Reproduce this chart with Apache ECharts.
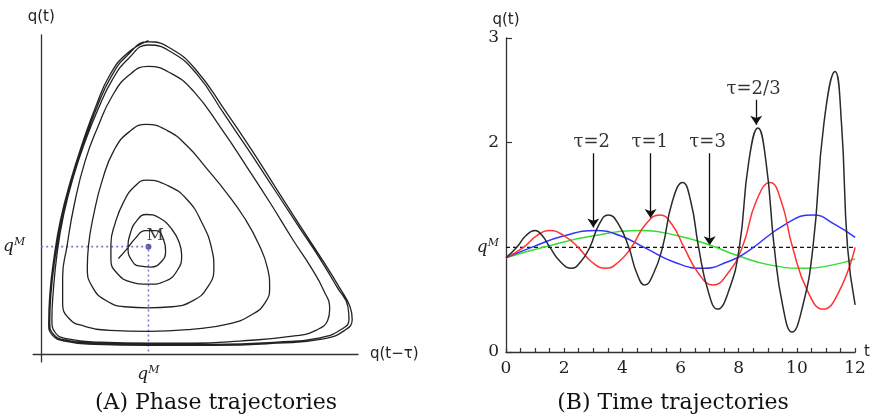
<!DOCTYPE html>
<html><head><meta charset="utf-8">
<script src="https://cdn.jsdelivr.net/npm/echarts@6/dist/echarts.min.js"></script>
<style>html,body{margin:0;padding:0;background:#fff}#c{width:873px;height:419px}</style>
</head><body><div id="c"></div>
<script>
// ---------- Data ----------
const qM = 1.0;
// Panel A: phase trajectory, pairs [q(t−τ), q(t)], one array per revolution (clockwise)
const loop0 = [[0.72,0.89],[0.80,0.98],[0.88,1.08],[0.97,1.15],[1.07,1.15],[1.14,1.07],[1.16,0.96],[1.12,0.86],[1.02,0.81],[0.91,0.82],[0.84,0.88],[0.81,0.98],[0.83,1.12],[0.89,1.24],[0.98,1.30]];
const loop1 = [[1.10,1.27],[1.22,1.16],[1.29,1.03],[1.31,0.92],[1.27,0.78],[1.16,0.68],[1.00,0.65],[0.84,0.67],[0.71,0.75],[0.65,0.88],[0.65,1.02],[0.69,1.22],[0.77,1.42],[0.87,1.56],[0.98,1.62]];
const loop2 = [[1.18,1.57],[1.36,1.44],[1.50,1.22],[1.59,0.98],[1.61,0.80],[1.55,0.62],[1.42,0.50],[1.22,0.44],[1.00,0.43],[0.78,0.44],[0.60,0.50],[0.48,0.62],[0.43,0.80],[0.44,1.00],[0.49,1.30],[0.57,1.62],[0.68,1.90],[0.82,2.07],[0.98,2.14]];
const loop3 = [[1.18,2.08],[1.36,1.94],[1.55,1.72],[1.73,1.50],[1.90,1.26],[2.03,1.02],[2.11,0.80],[2.13,0.62],[2.09,0.48],[1.97,0.37],[1.75,0.28],[1.40,0.23],[1.00,0.21],[0.64,0.22],[0.40,0.26],[0.26,0.33],[0.20,0.48],[0.20,0.72],[0.24,1.00],[0.31,1.40],[0.41,1.80],[0.53,2.12],[0.66,2.40],[0.82,2.60],[1.00,2.68]];
const loop4 = [[1.22,2.61],[1.42,2.45],[1.68,2.10],[1.92,1.74],[2.14,1.40],[2.35,1.06],[2.52,0.80],[2.63,0.60],[2.69,0.42],[2.67,0.31],[2.56,0.22],[2.38,0.17],[1.85,0.12],[1.40,0.10],[1.00,0.10],[0.55,0.11],[0.25,0.14],[0.13,0.20],[0.10,0.32],[0.11,0.55],[0.15,0.95],[0.21,1.30],[0.30,1.65],[0.41,1.98],[0.53,2.28],[0.66,2.55],[0.81,2.75],[1.00,2.88]];
const loop5 = [[1.22,2.81],[1.45,2.61],[1.71,2.23],[1.94,1.89],[2.17,1.54],[2.40,1.19],[2.61,0.87],[2.76,0.62],[2.86,0.44],[2.87,0.32],[2.80,0.23],[2.60,0.15],[2.20,0.11],[1.60,0.09],[1.00,0.09],[0.50,0.10],[0.22,0.13],[0.11,0.19],[0.08,0.29],[0.09,0.55],[0.13,0.90],[0.19,1.25],[0.28,1.60],[0.40,1.98],[0.52,2.30],[0.65,2.58],[0.80,2.78],[1.00,2.91]];
const loop6 = [[1.22,2.84],[1.45,2.64],[1.72,2.26],[1.95,1.92],[2.18,1.56],[2.41,1.20],[2.62,0.88],[2.78,0.62],[2.88,0.44],[2.90,0.32],[2.83,0.22],[2.63,0.14],[2.20,0.10],[1.60,0.08],[1.00,0.08],[0.50,0.09],[0.22,0.12],[0.10,0.18],[0.07,0.28],[0.08,0.55],[0.12,0.90],[0.18,1.25],[0.27,1.60],[0.39,1.98],[0.51,2.31],[0.64,2.60],[0.80,2.80],[1.00,2.92]];

// Panel B: time trajectories
const blackT = [0,0.37,0.68,1.0,1.25,1.51,1.88,2.25,2.56,2.88,3.2,3.52,3.87,4.22,4.5,4.77,5.07,5.38,5.72,6.07,6.35,6.62,6.95,7.27,7.65,8.02,8.34,8.66,8.94,9.22,9.52,9.83,10.19,10.55,10.93,11.31,11.53,11.74,12.0];
const blackQ = [0.9,1.0,1.11,1.16,1.11,1.0,0.86,0.80,0.86,1.0,1.22,1.31,1.22,1.0,0.75,0.64,0.75,1.0,1.44,1.62,1.44,1.0,0.58,0.41,0.58,1.0,1.81,2.14,1.81,1.0,0.43,0.19,0.43,1.0,2.19,2.68,2.19,1.0,0.45];
const redT = [0,0.6,1.05,1.51,2.0,2.48,2.95,3.43,3.87,4.31,4.8,5.29,5.7,6.12,6.62,7.12,7.62,8.12,8.6,9.08,9.46,9.85,10.37,10.9,11.45,12.0];
const redQ = [0.9,1.0,1.11,1.16,1.11,1.0,0.86,0.80,0.86,1.0,1.22,1.31,1.22,1.0,0.75,0.64,0.75,1.0,1.44,1.62,1.44,1.0,0.58,0.41,0.58,1.0];
const blueT = [0,0.88,2.0,3.11,3.93,4.75,5.77,6.78,7.6,8.3,9.6,10.55,11.3,12.0];
const blueQ = [0.9,1.0,1.11,1.16,1.11,1.0,0.86,0.80,0.86,0.96,1.22,1.31,1.22,1.095];
const greenT = [0,1.28,3.0,4.72,5.9,7.02,7.97,9.1,10.3,11.2,12.0];
const greenQ = [0.9,1.0,1.11,1.16,1.11,1.02,0.92,0.83,0.80,0.83,0.89];

const xTickLabels = [0,2,4,6,8,10,12];
const yTickLabels = [0,1,2,3];

// annotations
const tauLabels = ['τ=2','τ=1','τ=3','τ=2/3'];
const labelT = [2.95,4.94,6.93,8.51];
const labelQ = [2.0,2.0,2.0,2.51];
const arrowT = [3.0,4.97,7.0,8.6];
const arrowFrom = [1.9,1.9,1.9,2.41];
const arrowTo = [1.19,1.28,1.02,2.17];

// ---------- Chart ----------
const zip = (a,b)=>a.map((v,i)=>[v,b[i]]);
const phase = [].concat(loop0,loop1,loop2,loop3,loop4,loop5,loop6);
const serif = 'DejaVu Serif';
const sans = 'DejaVu Sans';
const qmRich = {
  q:{fontFamily:serif,fontStyle:'italic',fontSize:17,color:'#222',lineHeight:20},
  m:{fontFamily:serif,fontStyle:'italic',fontSize:11,color:'#222',verticalAlign:'top',lineHeight:20,padding:[0,0,6,0]}
};
const qmFmt = ()=>'{q|q}{m|M}';

const chart = echarts.init(document.getElementById('c'),null,{renderer:'canvas'});
const axisLineStyle = {color:'#333',width:1.3};
chart.setOption({
  animation:false,
  backgroundColor:'#fff',
  grid:[
    {left:33,top:35,width:325,height:327},
    {left:506,top:38,width:349.7,height:314}
  ],
  xAxis:[
    {gridIndex:0,type:'value',min:-0.075,max:2.954,
     axisLine:{onZero:true,lineStyle:axisLineStyle},axisTick:{show:false},splitLine:{show:false},
     axisLabel:{customValues:[qM],formatter:qmFmt,rich:qmRich,margin:3},
     name:'q(t−τ)',nameLocation:'end',nameGap:12,
     nameTextStyle:{fontFamily:sans,fontSize:15,color:'#222'}},
    {gridIndex:1,type:'value',min:0,max:12,interval:0.5,
     axisLine:{onZero:false,lineStyle:axisLineStyle},
     axisTick:{inside:true,length:4,lineStyle:{color:'#333',width:1.2}},
     splitLine:{show:false},
     axisLabel:{customValues:xTickLabels,fontFamily:serif,fontSize:17,color:'#222',margin:8},
     name:'t',nameLocation:'end',nameGap:9,
     nameTextStyle:{fontFamily:sans,fontSize:15,color:'#222'}}
  ],
  yAxis:[
    {gridIndex:0,type:'value',min:-0.075,max:2.973,
     axisLine:{onZero:true,lineStyle:axisLineStyle},axisTick:{show:false},splitLine:{show:false},
     axisLabel:{customValues:[qM],formatter:qmFmt,rich:qmRich,margin:8},
     name:'q(t)',nameLocation:'end',nameGap:10,
     nameTextStyle:{fontFamily:sans,fontSize:15,color:'#222'}},
    {gridIndex:1,type:'value',min:0,max:3,interval:1,
     axisLine:{onZero:false,lineStyle:axisLineStyle},
     axisTick:{inside:true,length:6,customValues:[0,2,3],lineStyle:{color:'#333',width:1.2}},
     splitLine:{show:false},
     axisLabel:{customValues:yTickLabels,margin:7,fontFamily:serif,fontSize:17,color:'#222',
       formatter:(v)=>Math.abs(v-qM)<1e-9?'{q|q}{m|M}':String(v),rich:qmRich},
     name:'q(t)',nameLocation:'end',nameGap:10,
     nameTextStyle:{fontFamily:sans,fontSize:15,color:'#222'}}
  ],
  graphic:[
    {type:'text',x:216,y:403,style:{text:'(A) Phase trajectories',fontFamily:serif,fontSize:22,fill:'#111',textAlign:'center',textVerticalAlign:'middle'}},
    {type:'text',x:673,y:403,style:{text:'(B) Time trajectories',fontFamily:serif,fontSize:22,fill:'#111',textAlign:'center',textVerticalAlign:'middle'}}
  ],
  series:[
    // Panel A
    {type:'line',xAxisIndex:0,yAxisIndex:0,data:[[0,qM],[qM,qM],[qM,0]],symbol:'none',
     lineStyle:{type:[2,3],color:'#7a7ad6',width:1.6}},
    {type:'line',xAxisIndex:0,yAxisIndex:0,data:phase,symbol:'none',smooth:0.5,
     lineStyle:{color:'#222',width:1.3}},
    {type:'scatter',xAxisIndex:0,yAxisIndex:0,data:[[qM,qM]],symbolSize:6,
     itemStyle:{color:'#33338f'},
     label:{show:true,formatter:'M',position:[1,-17],fontFamily:serif,fontSize:17,color:'#111'}},
    // Panel B
    {type:'line',xAxisIndex:1,yAxisIndex:1,data:[[0,qM],[12,qM]],symbol:'none',
     lineStyle:{type:[4,3],color:'#111',width:1.2}},
    {type:'line',xAxisIndex:1,yAxisIndex:1,data:zip(greenT,greenQ),symbol:'none',smooth:0.5,
     lineStyle:{color:'#33dd33',width:1.5}},
    {type:'line',xAxisIndex:1,yAxisIndex:1,data:zip(blueT,blueQ),symbol:'none',smooth:0.5,
     lineStyle:{color:'#3333ff',width:1.5}},
    {type:'line',xAxisIndex:1,yAxisIndex:1,data:zip(redT,redQ),symbol:'none',smooth:0.5,
     lineStyle:{color:'#ff3333',width:1.5}},
    {type:'line',xAxisIndex:1,yAxisIndex:1,data:zip(blackT,blackQ),symbol:'none',smooth:0.5,
     lineStyle:{color:'#2a2a2a',width:1.5}},
    {type:'lines',coordinateSystem:'cartesian2d',xAxisIndex:1,yAxisIndex:1,
     symbol:['none','arrow'],symbolSize:9,
     lineStyle:{color:'#111',width:1.3,opacity:1},
     data:arrowT.map((t,i)=>({coords:[[t,arrowFrom[i]],[t,arrowTo[i]]]}))},
    {type:'scatter',xAxisIndex:1,yAxisIndex:1,symbolSize:1,itemStyle:{color:'rgba(0,0,0,0)'},
     data:labelT.map((t,i)=>[t,labelQ[i],tauLabels[i]]),
     label:{show:true,position:'inside',formatter:(p)=>p.value[2],fontFamily:serif,fontSize:18,color:'#000'}}
  ]
});
</script></body></html>
